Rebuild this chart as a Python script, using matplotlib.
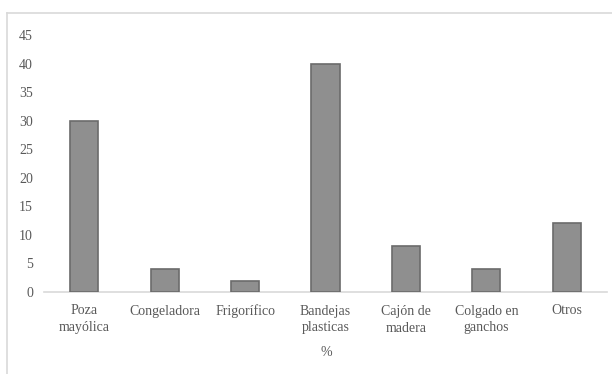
import matplotlib.pyplot as plt
from matplotlib.lines import Line2D

categorias = ["Poza\nmayólica", "Congeladora", "Frigorífico", "Bandejas\nplasticas",
              "Cajón de\nmadera", "Colgado en\nganchos", "Otros"]
porcentajes = [30, 4, 2, 40, 8, 4, 12]
yticks = list(range(0, 50, 5))

plt.rcParams['font.family'] = ['Liberation Serif', 'DejaVu Serif']
gris = '#595959'

fig = plt.figure(figsize=(6.12, 3.74), dpi=100)
ax = fig.add_axes([44/612, 1 - 292/374, (607 - 44)/612, (292 - 35)/374])

x = range(len(categorias))
ax.bar(x, porcentajes, width=0.35, color='#8f8f8f', edgecolor='#6b6b6b', linewidth=1.2, zorder=3)

ax.set_xlim(-0.5, len(categorias) - 0.5)
ax.set_ylim(0, 45)
ax.set_yticks(yticks)
ax.set_xticks(list(x))
ax.set_xticklabels(categorias, fontsize=10, color=gris, linespacing=1.4)
ax.tick_params(axis='y', labelsize=10, labelcolor=gris, length=0, pad=8)
ax.tick_params(axis='x', length=0, pad=9)

for s in ['top', 'right', 'left']:
    ax.spines[s].set_visible(False)
ax.spines['bottom'].set_color('#d9d9d9')
ax.spines['bottom'].set_linewidth(1.2)

fig.text(326/612, 1 - 352/374, "%", ha='center', va='center', fontsize=10, color=gris)

# marco del gráfico
fig.add_artist(Line2D([7/612, 7/612], [0, 1 - 13/374], color='#d9d9d9', lw=1.2))
fig.add_artist(Line2D([7/612, 1], [1 - 13/374, 1 - 13/374], color='#d9d9d9', lw=1.2))

fig.savefig("out.png", dpi=100)
